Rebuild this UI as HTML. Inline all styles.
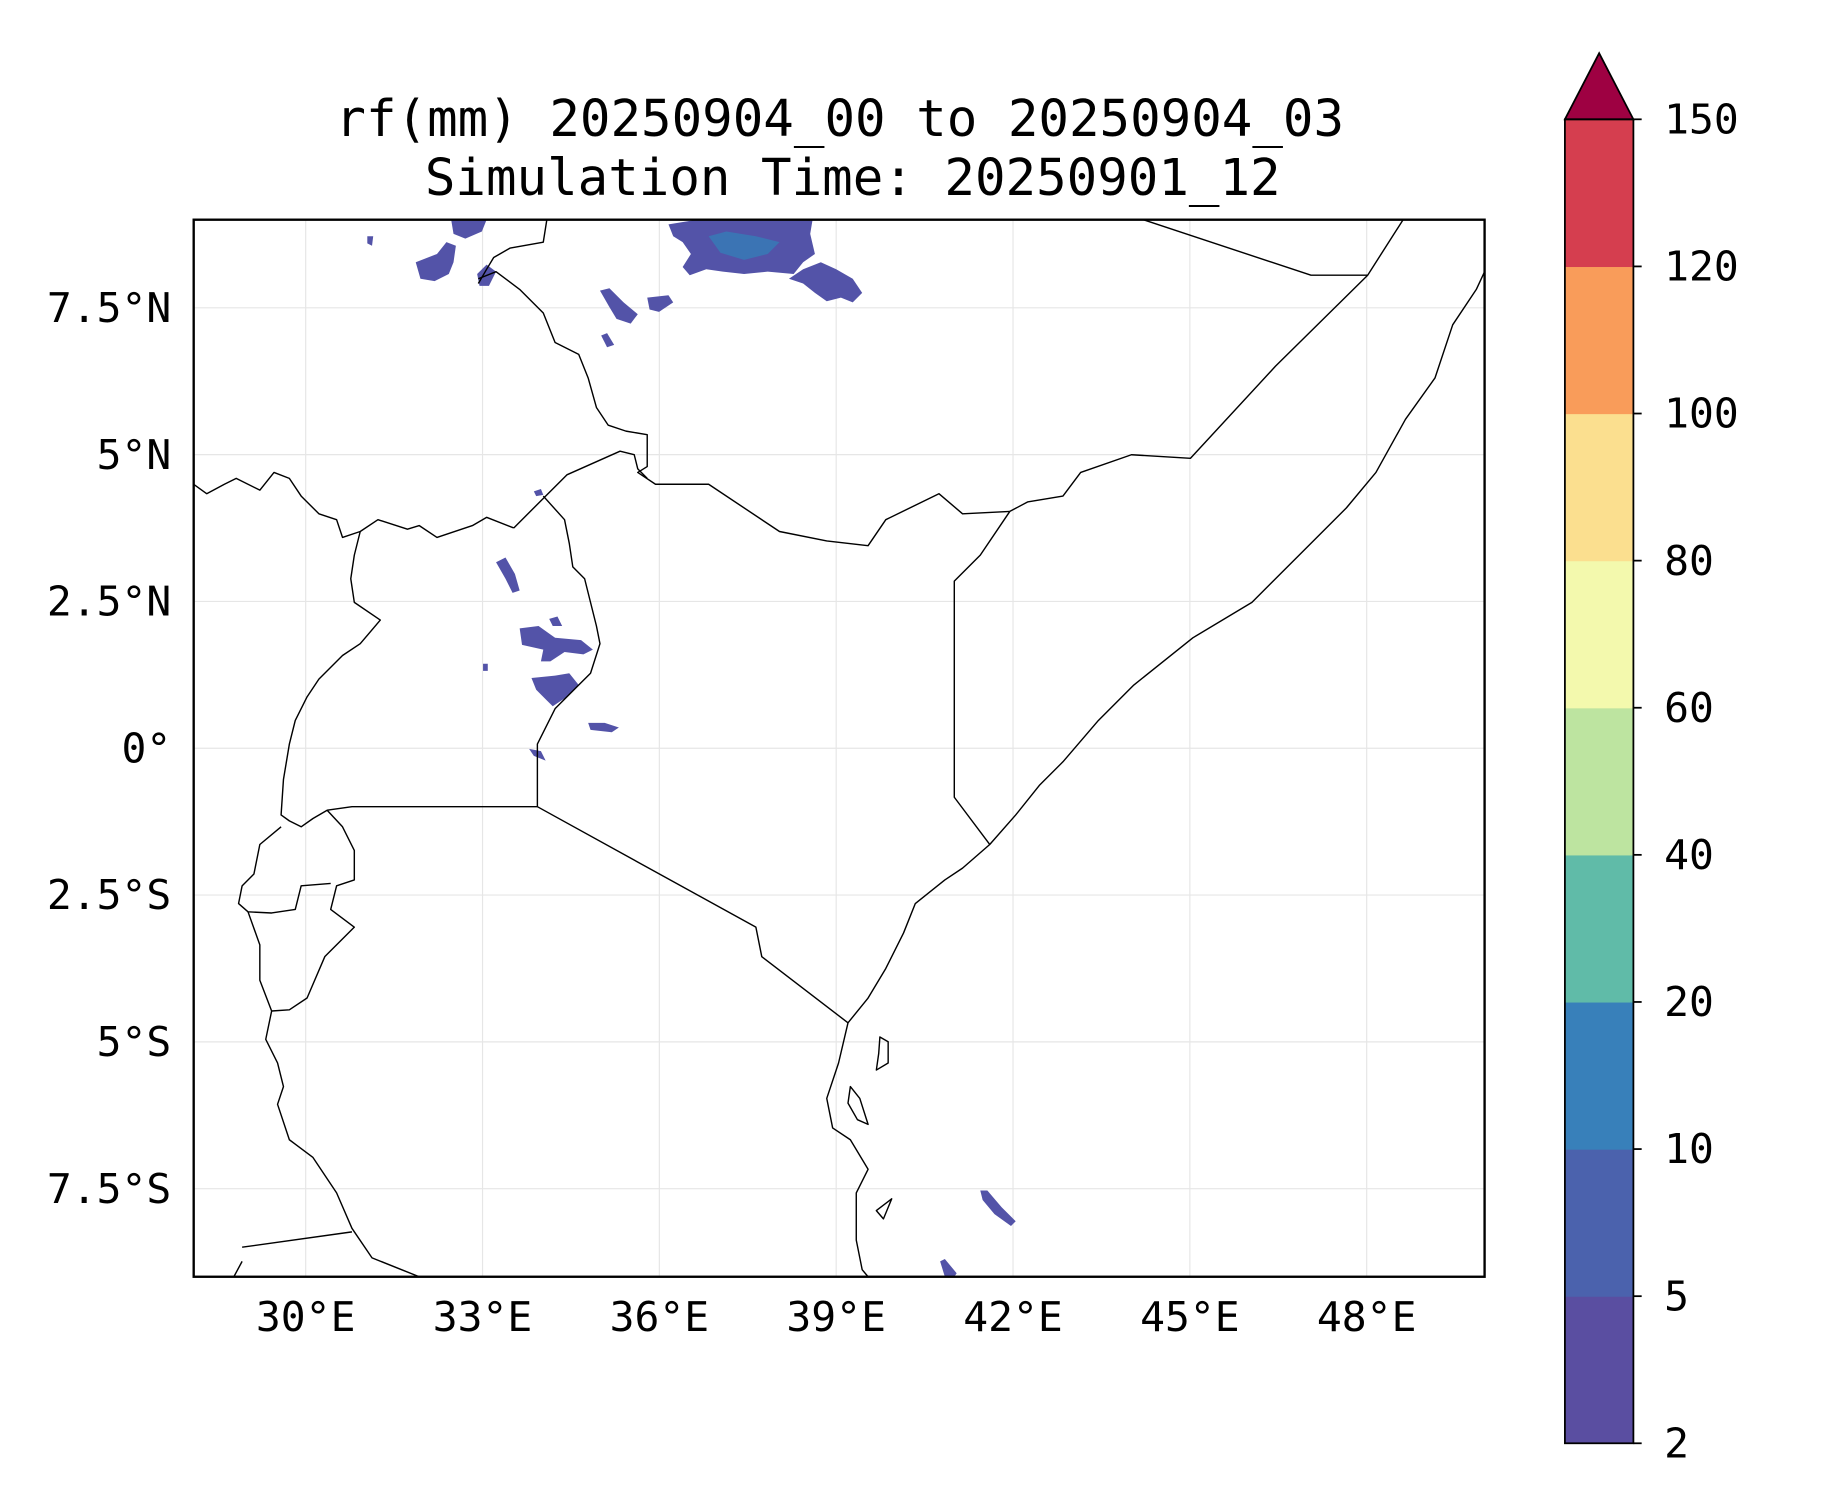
<!DOCTYPE html>
<html><head><meta charset="utf-8"><style>
html,body{margin:0;padding:0;background:#fff;}
svg{display:block;}
text{font-family:"DejaVu Sans Mono","Liberation Mono",monospace;fill:#000;}
</style></head><body>
<svg id="fig" width="1833" height="1500" viewBox="0 0 1552 1270" xmlns="http://www.w3.org/2000/svg">
<rect width="1552" height="1270" fill="#fff"/>
<text x="711" y="115" font-size="43" text-anchor="middle">rf(mm) 20250904_00 to 20250904_03</text>
<text x="722" y="165" font-size="43" text-anchor="middle">Simulation Time: 20250901_12</text>
<g id="grid"></g>
<g stroke="none">
<path fill="#5353a8" d="M566,190 L590,186 L688,186 L686,198 L690,215 L680,222 L672,232 L650,230 L630,232 L612,230 L598,228 L584,233 L578,226 L585,215 L578,205 L570,200 Z"/>
<path fill="#3b74b4" d="M600,200 L615,196 L640,200 L660,205 L650,215 L630,220 L610,214 Z"/>
<path fill="#5353a8" d="M668,236 L680,228 L695,222 L708,228 L722,236 L730,248 L722,256 L712,252 L700,255 L690,248 L680,240 Z"/>
<path fill="#5353a8" d="M352,222 L370,215 L378,205 L386,208 L384,222 L380,232 L368,238 L356,236 Z"/>
<path fill="#5353a8" d="M382,186 L412,186 L408,196 L394,202 L384,198 Z"/>
<path fill="#5353a8" d="M404,232 L412,224 L420,230 L414,242 L406,242 Z"/>
<path fill="#5353a8" d="M508,246 L516,244 L528,256 L540,266 L534,274 L522,270 L516,260 Z"/>
<path fill="#5353a8" d="M548,252 L566,250 L570,256 L558,264 L550,262 Z"/>
<path fill="#5353a8" d="M509,284 L514,282 L520,292 L514,294 Z"/>
<path fill="#5353a8" d="M420,476 L428,472 L436,486 L440,500 L434,502 L428,490 Z"/>
<path fill="#5353a8" d="M440,532 L456,530 L470,540 L492,542 L502,550 L494,554 L478,552 L466,560 L458,560 L460,550 L442,546 Z"/>
<path fill="#5353a8" d="M450,574 L470,572 L482,570 L490,580 L480,590 L468,598 L462,592 L454,584 Z"/>
<path fill="#5353a8" d="M498,612 L512,612 L524,616 L518,620 L500,618 Z"/>
<path fill="#5353a8" d="M830,1008 L836,1008 L848,1022 L860,1034 L856,1038 L842,1028 L832,1016 Z"/>
<path fill="#5353a8" d="M796,1068 L800,1066 L810,1078 L808,1081 L800,1081 Z"/>
<path fill="#5353a8" d="M452,416 L458,414 L460,419 L454,420 Z M465,524 L472,522 L476,530 L468,530 Z M409,562 L413,562 L413,568 L409,568 Z M448,634 L458,636 L462,644 L452,640 Z M311,200 L316,200 L315,208 L311,206 Z"/>
</g>
<g fill="none" stroke="#000" stroke-width="1.2" stroke-linejoin="round">
<path d="M463,186 L460,205 L432,210 L418,218 L412,228 L405,240"/>
<path d="M405,236 L420,230 L440,245 L460,265 L470,290 L490,300 L498,320 L505,345 L515,360 L530,365 L548,368 L548,395 L540,400 L555,410 L600,410 L660,450 L700,458 L735,462 L750,440 L795,418 L815,435 L855,433"/>
<path d="M855,433 L870,425 L900,420 L915,400 L958,385 L1008,388 L1080,310 L1158,233 L1188,186"/>
<path d="M968,186 L1110,233 L1158,233"/>
<path d="M855,433 L830,470 L808,492 L808,675 L838,715"/>
<path d="M435,447 L480,402 L525,382 L537,385 L540,397 L548,405"/>
<path d="M164,410 L175,418 L190,410 L200,405 L220,415 L232,400 L245,405 L255,420 L270,435 L285,440 L290,455 L305,450 L320,440 L345,448 L355,445 L370,455 L400,445 L412,438 L435,447"/>
<path d="M460,420 L478,440 L482,460 L485,480 L495,490 L500,510 L505,530 L508,545 L500,570 L490,580 L470,600 L455,630 L455,683"/>
<path d="M305,450 L300,470 L297,490 L300,510 L322,525 L305,545 L290,555 L270,575 L260,590 L250,610 L245,630 L240,660 L238,690 L245,695 L255,700 L265,693 L277,686 L298,683 L455,683"/>
<path d="M455,683 L640,785 L645,810 L718,866"/>
<path d="M277,686 L290,700 L300,720 L300,745 L285,750 L280,770 L300,785 L275,810 L260,845 L245,855 L230,856 M238,700 L220,715 L215,740 L205,750 L202,765 L210,772 L230,773 L250,770 L255,750 L280,748"/>
<path d="M210,772 L220,800 L220,830 L230,856 L225,880 L235,900 L240,920 L235,935 L245,965 L265,980 L285,1010 L298,1040 L315,1065 L340,1075 L355,1081"/>
<path d="M205,1056 L298,1043 M205,1068 L198,1081"/>
<path d="M1257,230 L1250,245 L1230,275 L1215,320 L1190,355 L1165,400 L1140,430 L1100,470 L1060,510 L1010,540 L960,580 L930,610 L900,645 L880,665 L860,690 L838,715 L815,735 L800,745 L775,765 L765,790 L750,820 L735,845 L718,866 L710,900 L700,930 L705,955 L720,965 L735,990 L725,1010 L725,1050 L730,1075 L735,1081"/>
<path d="M745,878 L752,882 L752,900 L742,906 L744,892 Z M720,920 L728,930 L735,952 L726,948 L718,934 Z M742,1025 L755,1015 L748,1032 Z"/>
</g>
<rect x="164" y="186" width="1093" height="895" fill="none" stroke="#000" stroke-width="2"/>
<g id="axes"></g>
<g id="cbar"></g>
</svg>
<script>
const lonTicks = [30,33,36,39,42,45,48];
const lonLabels = ["30°E","33°E","36°E","39°E","42°E","45°E","48°E"];
const latTicks = [7.5,5,2.5,0,-2.5,-5,-7.5];
const latLabels = ["7.5°N","5°N","2.5°N","0°","2.5°S","5°S","7.5°S"];
const cbarLevels = [2,5,10,20,40,60,80,100,120,150];
const cbarColors = ["#5a4ea1","#4b62ad","#3880ba","#60bba8","#bde4a0","#f3f9ad","#fbdf8f","#f99c5a","#d53e4f"];
const extendColor = "#9e0142";
const NS="http://www.w3.org/2000/svg";
const x0=164,x1=1257,y0=186,y1=1081;
const lonMin=28.1,lonMax=50,latMin=-9,latMax=9;
function xs(lon){return x0+(lon-lonMin)/(lonMax-lonMin)*(x1-x0);}
function ys(lat){return y1-(lat-latMin)/(latMax-latMin)*(y1-y0);}
function mk(tag,attrs,parent){const e=document.createElementNS(NS,tag);for(const k in attrs)e.setAttribute(k,attrs[k]);parent.appendChild(e);return e;}
const grid=document.getElementById('grid'),axes=document.getElementById('axes'),cb=document.getElementById('cbar');
lonTicks.forEach((v,i)=>{
  const l=mk('line',{x1:xs(v),x2:xs(v),y1:y0,y2:y1,stroke:'#e6e6e6','stroke-width':1},grid);
  
  
  const t=mk('text',{x:xs(v),y:1127,'font-size':35,'text-anchor':'middle'},axes);
  t.textContent=lonLabels[i];
  
  
});
latTicks.forEach((v,i)=>{
  const l=mk('line',{x1:x0,x2:x1,y1:ys(v),y2:ys(v),stroke:'#e6e6e6','stroke-width':1},grid);
  
  
  const t=mk('text',{x:145,y:ys(v)+12,'font-size':35,'text-anchor':'end'},axes);
  t.textContent=latLabels[i];
  
  
});
const cx0=1325,cx1=1383,cTop=101,cBot=1222,n=cbarLevels.length-1;
function cy(i){return cBot-i*(cBot-cTop)/n;}
cbarColors.forEach((c,i)=>{
  const r=mk('rect',{x:cx0,y:cy(i+1),width:cx1-cx0,height:cy(i)-cy(i+1)+0.5,fill:c},cb);
  
  
});
const tri=mk('polygon',{points:`${cx0},${cTop} ${(cx0+cx1)/2},45 ${cx1},${cTop}`,fill:extendColor,stroke:'#000','stroke-width':1.5},cb);


const fr=mk('rect',{x:cx0,y:cTop,width:cx1-cx0,height:cBot-cTop,fill:'none',stroke:'#000','stroke-width':1.5},cb);


cbarLevels.forEach((v,i)=>{
  const tk=mk('line',{x1:cx1,x2:cx1+7,y1:cy(i),y2:cy(i),stroke:'#000','stroke-width':1.5},cb);
  
  
  const t=mk('text',{x:1409,y:cy(i)+12,'font-size':35},cb);
  t.textContent=v;
  
  
});
</script>
</body></html>
